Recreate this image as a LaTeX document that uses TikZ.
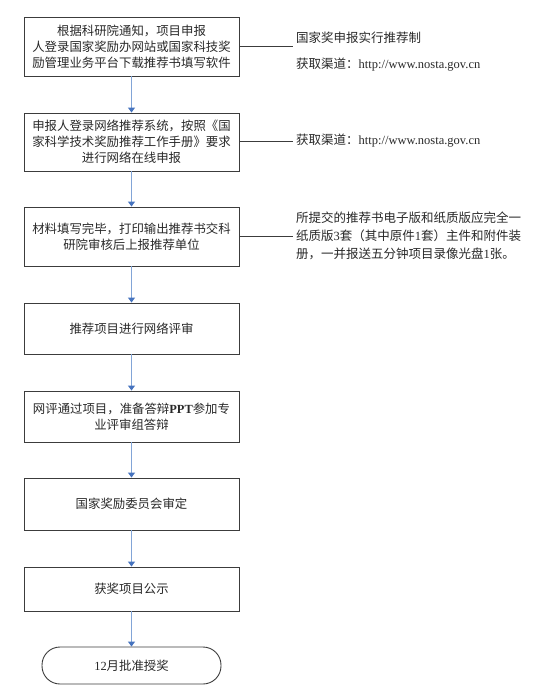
\documentclass[tikz,border=0pt]{standalone}
\usepackage{fontspec}
\setmainfont{Noto Sans CJK SC}
\newfontfamily\latin{Liberation Serif}
\usetikzlibrary{arrows.meta}
\newcommand{\lt}[1]{{\latin #1}}
\definecolor{arrline}{RGB}{130,165,215}
\definecolor{arrhead}{RGB}{70,115,190}
\definecolor{boxline}{RGB}{60,60,60}
\definecolor{txt}{RGB}{40,40,40}
\begin{document}
\begin{tikzpicture}[x=1pt,y=-1pt,
  stepbox/.style={draw=boxline,line width=0.9pt,minimum width=215pt,inner sep=0pt,align=center,
    text=txt,font=\fontsize{12.4}{15.8}\selectfont},
  endbox/.style={draw=boxline,line width=0.9pt,minimum width=179pt,minimum height=37pt,rounded corners=18pt,
    inner sep=0pt,text=txt,font=\fontsize{12.4}{15.8}\selectfont},
  flow/.style={draw=arrline,line width=1.4pt,-{Triangle[length=5pt,width=7pt,color=arrhead]}},
  side/.style={draw=boxline,line width=0.9pt},
  note/.style={anchor=west,align=left,inner sep=0pt,text=txt,font=\fontsize{12.5}{18}\selectfont}]
\useasboundingbox (0,0) rectangle (533,690);

\node[stepbox,minimum height=59pt] (b1) at (131.5,46.5) {根据科研院通知，项目申报\\人登录国家奖励办网站或国家科技奖\\励管理业务平台下载推荐书填写软件};
\node[stepbox,minimum height=58pt] (b2) at (131.5,142) {申报人登录网络推荐系统，按照《国\\家科学技术奖励推荐工作手册》要求\\进行网络在线申报};
\node[stepbox,minimum height=59pt] (b3) at (131.5,236.5) {材料填写完毕，打印输出推荐书交科\\研院审核后上报推荐单位};
\node[stepbox,minimum height=51pt] (b4) at (131.5,328.5) {推荐项目进行网络评审};
\node[stepbox,minimum height=51pt] (b5) at (131.5,416.5) {网评通过项目，准备答辩\lt{\textbf{PPT}}参加专\\业评审组答辩};
\node[stepbox,minimum height=52pt] (b6) at (131.5,504) {国家奖励委员会审定};
\node[stepbox,minimum height=44pt] (b7) at (131.5,589) {获奖项目公示};
\node[endbox] (b8) at (131.5,665.5) {\lt{12}月批准授奖};

\draw[flow] (b1) -- (b2);
\draw[flow] (b2) -- (b3);
\draw[flow] (b3) -- (b4);
\draw[flow] (b4) -- (b5);
\draw[flow] (b5) -- (b6);
\draw[flow] (b6) -- (b7);
\draw[flow] (b7) -- (b8);

\coordinate (c1) at (293,46.5);
\coordinate (c2) at (293,141);
\coordinate (c3) at (293,236);
\draw[side] (b1.east |- c1) -- (c1);
\draw[side] (b2.east |- c2) -- (c2);
\draw[side] (b3.east |- c3) -- (c3);

\node[note,font=\fontsize{12.5}{25.5}\selectfont] (n1) at (296,51.5) {国家奖申报实行推荐制\\获取渠道：\lt{http://www.nosta.gov.cn}};
\node[note] (n2) at (296,141) {获取渠道：\lt{http://www.nosta.gov.cn}};
\node[note] (n3) at (296,236) {所提交的推荐书电子版和纸质版应完全一\\纸质版\lt{3}套（其中原件\lt{1}套）主件和附件装\\册，一并报送五分钟项目录像光盘\lt{1}张。};
\end{tikzpicture}
\end{document}
